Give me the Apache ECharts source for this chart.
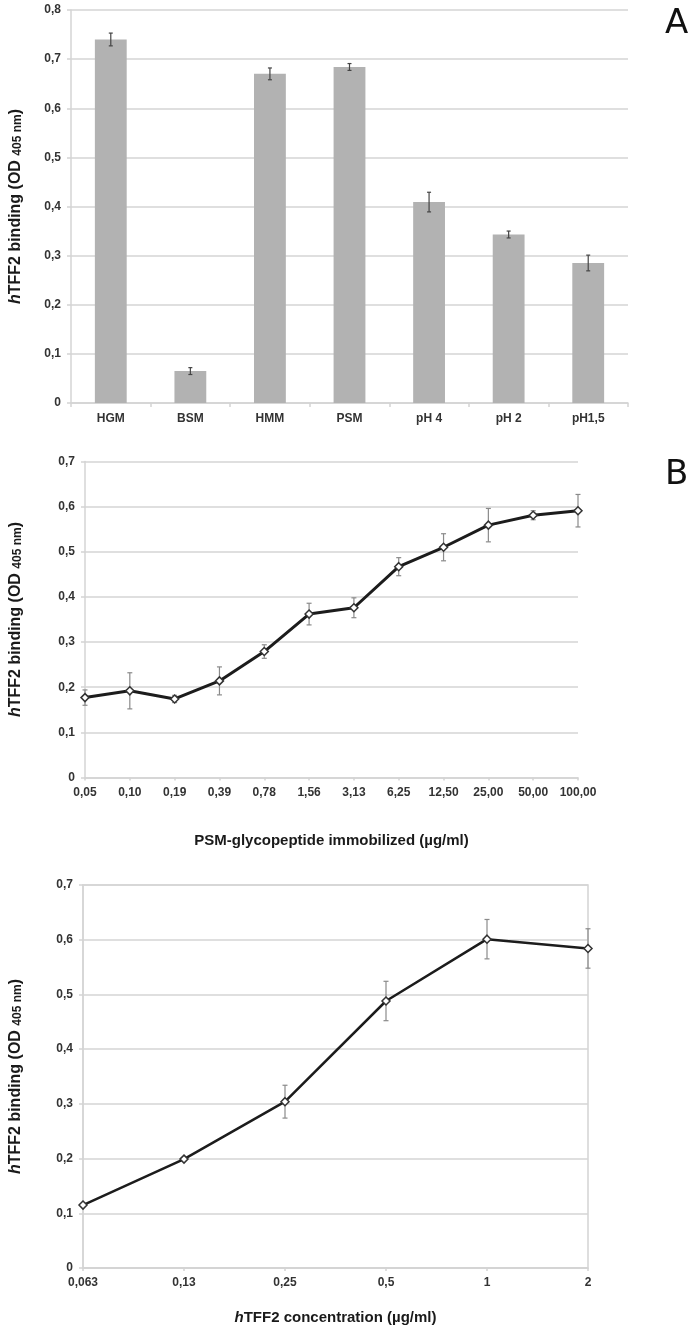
<!DOCTYPE html>
<html>
<head>
<meta charset="utf-8">
<script src="https://cdn.jsdelivr.net/npm/echarts@6/dist/echarts.min.js"></script>
<style>
html,body{margin:0;padding:0;background:#fff;}
#c{width:693px;height:1327px;}
</style>
</head>
<body>
<div id="c"></div>
<script>
// Panel A
const catA = ['HGM','BSM','HMM','PSM','pH 4','pH 2','pH1,5'];
const valA = [0.740, 0.065, 0.670, 0.684, 0.409, 0.343, 0.285];
const errA = [0.013, 0.007, 0.012, 0.007, 0.020, 0.007, 0.016];
// Panel B
const catB = ['0,05','0,10','0,19','0,39','0,78','1,56','3,13','6,25','12,50','25,00','50,00','100,00'];
const valB = [0.177, 0.192, 0.174, 0.214, 0.279, 0.362, 0.376, 0.467, 0.510, 0.559, 0.581, 0.591];
const errB = [0.017, 0.040, 0.008, 0.031, 0.015, 0.024, 0.022, 0.020, 0.030, 0.037, 0.010, 0.036];
// Panel C
const catC = ['0,063','0,13','0,25','0,5','1','2'];
const valC = [0.115, 0.199, 0.304, 0.488, 0.601, 0.584];
const errC = [0, 0, 0.030, 0.036, 0.036, 0.036];

const titleB = 'PSM-glycopeptide immobilized (µg/ml)';
const yTitleRich = '{i|h}{b|TFF2 binding (OD }{s|405 nm}{b|)}';

const FONT = '"Liberation Sans", Arial, sans-serif';
const gridColor = '#d4d4d4';

function yFmt(v){ return v === 0 ? '0' : v.toFixed(1).replace('.', ','); }

function yAxis(gridIndex, max, gap){
  return {
    type: 'value', gridIndex: gridIndex, min: 0, max: max, interval: 0.1,
    axisLine: {show: true, lineStyle: {color: gridColor, width: 1.5}},
    axisTick: {show: true, length: 4, lineStyle: {color: gridColor, width: 1.5}},
    splitLine: {show: true, lineStyle: {color: gridColor, width: 1.5}},
    axisLabel: {formatter: yFmt, color: '#333', fontSize: 12, fontWeight: 'bold', fontFamily: FONT, margin: 10},
    name: yTitleRich, nameLocation: 'middle', nameRotate: 90, nameGap: gap,
    nameTextStyle: {
      fontFamily: FONT, color: '#1a1a1a',
      rich: {
        i: {fontStyle: 'italic', fontWeight: 'bold', fontSize: 16, lineHeight: 18, verticalAlign: 'bottom', fontFamily: FONT, color: '#1a1a1a'},
        b: {fontWeight: 'bold', fontSize: 16, lineHeight: 18, verticalAlign: 'bottom', fontFamily: FONT, color: '#1a1a1a'},
        s: {fontWeight: 'bold', fontSize: 12, lineHeight: 15, verticalAlign: 'bottom', fontFamily: FONT, color: '#1a1a1a'}
      }
    }
  };
}

function errRender(color, capW){
  return function(params, api){
    const x = api.value(0), y = api.value(1), e = api.value(2);
    if (!e) return null;
    const t = api.coord([x, y + e]);
    const b = api.coord([x, y - e]);
    const st = {stroke: color, lineWidth: 1.2};
    return {
      type: 'group',
      children: [
        {type: 'line', shape: {x1: t[0], y1: t[1], x2: b[0], y2: b[1]}, style: st},
        {type: 'line', shape: {x1: t[0]-capW, y1: t[1], x2: t[0]+capW, y2: t[1]}, style: st},
        {type: 'line', shape: {x1: b[0]-capW, y1: b[1], x2: b[0]+capW, y2: b[1]}, style: st}
      ]
    };
  };
}

const chart = echarts.init(document.getElementById('c'), null, {renderer: 'canvas'});

const option = {
  animation: false,
  backgroundColor: '#fff',
  grid: [
    {left: 66, top: 10, width: 562, height: 393},
    {left: 80, top: 461.5, width: 498, height: 316},
    {left: 78, top: 885, width: 510, height: 383, show: true, borderColor: gridColor, borderWidth: 1.5, backgroundColor: 'transparent'}
  ],
  xAxis: [
    {
      type: 'category', gridIndex: 0, data: catA, boundaryGap: true,
      axisLine: {lineStyle: {color: gridColor, width: 1.5}},
      axisTick: {show: true, length: 4, lineStyle: {color: gridColor, width: 1.5}},
      axisLabel: {color: '#333', fontSize: 12, fontWeight: 'bold', fontFamily: FONT, margin: 10}
    },
    {
      type: 'category', gridIndex: 1, data: catB, boundaryGap: false,
      axisLine: {lineStyle: {color: gridColor, width: 1.5}},
      axisTick: {show: true, length: 3, alignWithLabel: true, lineStyle: {color: gridColor, width: 1.5}},
      axisLabel: {color: '#333', fontSize: 12, fontWeight: 'bold', fontFamily: FONT, margin: 9, interval: 0},
      name: titleB, nameLocation: 'middle', nameGap: 56,
      nameTextStyle: {fontWeight: 'bold', fontSize: 15, fontFamily: FONT, color: '#1a1a1a'}
    },
    {
      type: 'category', gridIndex: 2, data: catC, boundaryGap: false,
      axisLine: {lineStyle: {color: gridColor, width: 1.5}},
      axisTick: {show: true, length: 3, alignWithLabel: true, lineStyle: {color: gridColor, width: 1.5}},
      axisLabel: {color: '#333', fontSize: 12, fontWeight: 'bold', fontFamily: FONT, margin: 9, interval: 0},
      name: '{i|h}{b|TFF2 concentration (µg/ml)}', nameLocation: 'middle', nameGap: 42,
      nameTextStyle: {
        fontFamily: FONT,
        rich: {
          i: {fontStyle: 'italic', fontWeight: 'bold', fontSize: 15, fontFamily: FONT, color: '#1a1a1a'},
          b: {fontWeight: 'bold', fontSize: 15, fontFamily: FONT, color: '#1a1a1a'}
        }
      }
    }
  ],
  yAxis: [
    yAxis(0, 0.8, 47),
    yAxis(1, 0.7, 61),
    yAxis(2, 0.7, 59)
  ],
  graphic: [
    {type: 'text', left: 665, top: 7, style: {text: 'A', font: '34px "DejaVu Sans", sans-serif', fill: '#111'}},
    {type: 'text', left: 665, top: 458, style: {text: 'B', font: '34px "DejaVu Sans", sans-serif', fill: '#111'}}
  ],
  series: [
    {
      type: 'bar', xAxisIndex: 0, yAxisIndex: 0, data: valA, barWidth: '40%',
      itemStyle: {color: '#b2b2b2'}
    },
    {
      type: 'custom', xAxisIndex: 0, yAxisIndex: 0, z: 5,
      data: valA.map((v, i) => [i, v, errA[i]]),
      renderItem: errRender('#444', 2)
    },
    {
      type: 'custom', xAxisIndex: 1, yAxisIndex: 1, z: 1,
      data: valB.map((v, i) => [i, v, errB[i]]),
      renderItem: errRender('#8a8a8a', 2.5)
    },
    {
      type: 'line', xAxisIndex: 1, yAxisIndex: 1, data: valB, z: 3,
      symbol: 'diamond', symbolSize: 8,
      lineStyle: {color: '#1c1c1c', width: 3},
      itemStyle: {color: '#fff', borderColor: '#333', borderWidth: 1.5}
    },
    {
      type: 'custom', xAxisIndex: 2, yAxisIndex: 2, z: 1,
      data: valC.map((v, i) => [i, v, errC[i]]),
      renderItem: errRender('#8a8a8a', 2.5)
    },
    {
      type: 'line', xAxisIndex: 2, yAxisIndex: 2, data: valC, z: 3,
      symbol: 'diamond', symbolSize: 8,
      lineStyle: {color: '#1c1c1c', width: 2.5},
      itemStyle: {color: '#fff', borderColor: '#333', borderWidth: 1.5}
    }
  ]
};
chart.setOption(option);
</script>
</body>
</html>
